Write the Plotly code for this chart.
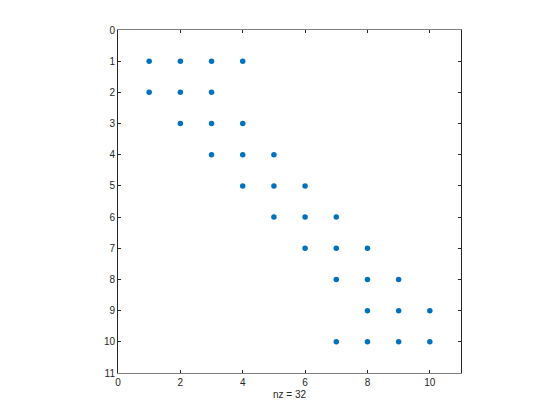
import plotly.graph_objects as go

rows = [1, 1, 1, 1, 2, 2, 2, 3, 3, 3, 4, 4, 4, 5, 5, 5, 6, 6, 6, 7, 7, 7, 8, 8, 8, 9, 9, 9, 10, 10, 10, 10]
cols = [1, 2, 3, 4, 1, 2, 3, 2, 3, 4, 3, 4, 5, 4, 5, 6, 5, 6, 7, 6, 7, 8, 7, 8, 9, 8, 9, 10, 7, 8, 9, 10]
x_ticks = [0, 2, 4, 6, 8, 10]
y_ticks = list(range(0, 12))
nz = len(rows)

fig = go.Figure()
fig.add_trace(go.Scatter(x=cols, y=rows, mode="markers",
                         marker=dict(color="#0072BD", size=5.5), showlegend=False, hoverinfo="skip"))

fig.update_layout(
    width=560, height=420,
    margin=dict(l=110, r=107, t=22, b=55),
    paper_bgcolor="white", plot_bgcolor="white",
    font=dict(family="Liberation Sans, Arial, sans-serif", size=10, color="#262626"),
    xaxis=dict(range=[0, 11], tickvals=x_ticks, ticks="inside", ticklen=3, tickcolor="#262626",
               showline=True, linecolor="#808080", linewidth=1, mirror="ticks", showgrid=False,
               zeroline=False),
    yaxis=dict(range=[11, 0], tickvals=y_ticks, ticks="inside", ticklen=3, tickcolor="#262626",
               showline=True, linecolor="#262626", linewidth=1, mirror="ticks", showgrid=False,
               zeroline=False),
    annotations=[dict(text=f"nz = {nz}", xref="paper", yref="paper", x=0.5, y=-0.04,
                      xanchor="center", yanchor="top", showarrow=False, font=dict(size=10))],
)
fig.write_html("out.html")
